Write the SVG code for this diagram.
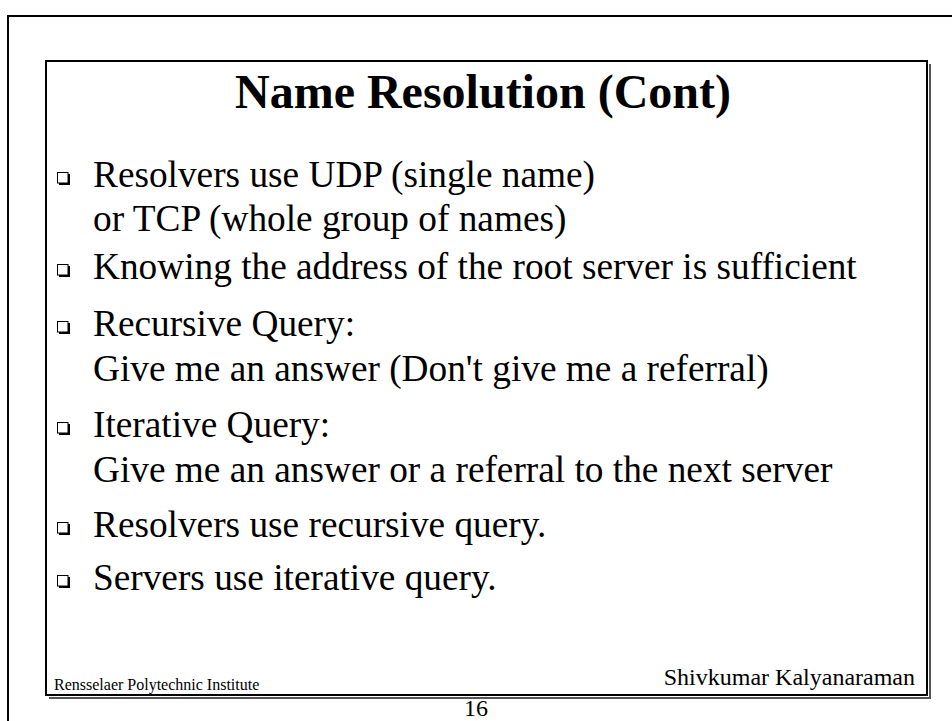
<svg xmlns="http://www.w3.org/2000/svg" width="952" height="721" viewBox="0 0 952 721">
  <style>
    .frame { fill: none; stroke: #000; stroke-width: 2; }
    .shadow { fill: none; stroke: #555; stroke-width: 2; }
    .title { font-family: "Liberation Serif", "Times New Roman", serif; font-weight: bold; font-size: 48px; fill: #000; }
    .body { font-family: "Liberation Serif", "Times New Roman", serif; font-size: 37.3px; fill: #000; }
    .foot-s { font-family: "Liberation Serif", "Times New Roman", serif; font-size: 16px; fill: #000; }
    .foot-l { font-family: "Liberation Serif", "Times New Roman", serif; font-size: 24px; fill: #000; }
  </style>
  <defs>
    <!-- hollow square bullet with drop shadow -->
    <g id="bullet">
      <rect x="2" y="2" width="11" height="11" fill="#000"/>
      <rect x="0.5" y="0.5" width="10.5" height="10.5" fill="#fff" stroke="#000" stroke-width="1"/>
    </g>
  </defs>

  <rect width="952" height="721" fill="#fff"/>

  <!-- page frame -->
  <g id="page-frame">
    <path class="frame" d="M8 721 V16 H952"/>
  </g>

  <!-- slide box -->
  <g id="slide">
    <path class="shadow" d="M930 64 V698 H49"/>
    <rect class="frame" x="46" y="61" width="881" height="634"/>
  </g>

  <g id="title">
    <text class="title" x="235" y="108">Name Resolution (Cont)</text>
  </g>

  <g id="bullets">
    <use href="#bullet" x="57" y="172"/>
    <text class="body" x="93" y="187">Resolvers use UDP (single name)</text>
    <text class="body" x="93" y="231">or TCP (whole group of names)</text>

    <use href="#bullet" x="57" y="264"/>
    <text class="body" x="93" y="279">Knowing the address of the root server is sufficient</text>

    <use href="#bullet" x="57" y="321"/>
    <text class="body" x="93" y="336">Recursive Query:</text>
    <text class="body" x="93" y="381">Give me an answer (Don't give me a referral)</text>

    <use href="#bullet" x="57" y="422"/>
    <text class="body" x="93" y="437">Iterative Query:</text>
    <text class="body" x="93" y="482">Give me an answer or a referral to the next server</text>

    <use href="#bullet" x="57" y="522"/>
    <text class="body" x="93" y="537">Resolvers use recursive query.</text>

    <use href="#bullet" x="57" y="575"/>
    <text class="body" x="93" y="590">Servers use iterative query.</text>
  </g>

  <g id="footer">
    <text class="foot-s" x="54" y="690">Rensselaer Polytechnic Institute</text>
    <text class="foot-l" x="915" y="685" text-anchor="end">Shivkumar Kalyanaraman</text>
    <text class="foot-l" x="476" y="716" text-anchor="middle">16</text>
  </g>
</svg>
